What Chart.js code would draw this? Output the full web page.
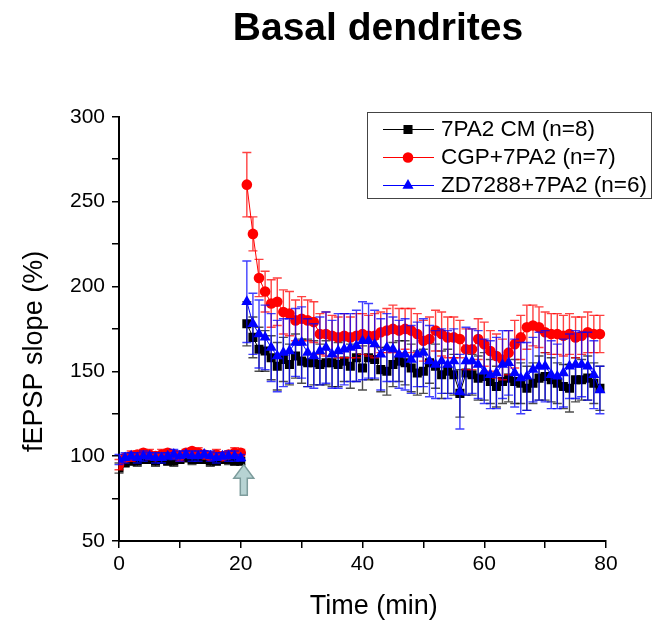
<!DOCTYPE html>
<html><head><meta charset="utf-8">
<script src="https://cdn.jsdelivr.net/npm/chart.js@4"></script>
<style>html,body{margin:0;padding:0;background:#fff;}</style>
</head><body>
<canvas id="c" width="656" height="623"></canvas>
<script>
// ---- data ----
const baselineTimes = [0,1,2,3,4,5,6,7,8,9,10,11,12,13,14,15,16,17,18,19,20];
const postTimes = [21,22,23,24,25,26,27,28,29,30,31,32,33,34,35,36,37,38,39,40,41,42,43,44,45,46,47,48,49,50,51,52,53,54,55,56,57,58,59,60,61,62,63,64,65,66,67,68,69,70,71,72,73,74,75,76,77,78,79];
const seriesLabels = ['7PA2 CM (n=8)', 'CGP+7PA2 (n=7)', 'ZD7288+7PA2 (n=6)'];

const cmBase = [93,96,97,97,98,98,97,98,97,97,98,99,98,98,98,97,97,98,98,97,97];
const cmPost = [178,170,163,162,158,153,157,154,159,156,
                155,155,154,155,155,154,156,153,158,152,
                158,157,151,150,154,156,155,152,149,150,
                155,153,148,150,148,137,149,148,146,147,
                144,141,144,146,144,143,140,143,146,147,
                145,143,141,140,145,145,146,143,140];
const cmBaseErr = [3,2,2,3,2,2,3,2,2,3,2,2,3,2,2,3,2,2,3,2,2];
const cmPostErr = [13,12,13,12,13,14,13,12,13,13,
                   14,13,12,13,14,13,12,13,14,13,
                   13,12,13,14,13,12,13,14,13,13,
                   12,13,14,13,12,14,13,12,13,14,
                   13,12,13,14,13,12,13,12,13,14,
                   13,12,13,14,13,12,13,12,13];

const cgpBase = [95,99,100,101,102,101,100,101,102,101,100,102,103,102,101,100,101,100,101,102,102];
const cgpPost = [260,231,205,197,190,191,185,184,180,181,
                 180,179,172,172,171,170,171,170,171,172,
                 171,171,173,174,175,174,175,174,172,168,
                 169,174,172,170,170,169,163,163,169,166,
                 162,159,157,161,166,170,176,177,176,173,
                 172,172,171,172,170,171,173,172,172];
const cgpBaseErr = [3,2,3,2,2,3,2,3,2,2,3,2,2,3,2,2,3,2,2,3,2];
const cgpPostErr = [19,10,11,12,14,14,13,13,12,13,
                    12,12,12,13,12,12,13,12,13,12,
                    12,13,12,13,14,13,12,13,12,12,
                    13,12,13,12,12,11,12,12,12,13,
                    12,13,12,13,14,13,13,12,12,12,
                    12,12,12,12,12,11,12,11,11];

const zdBase = [98,99,100,99,100,100,99,99,100,101,100,101,100,100,101,100,99,100,100,100,99];
const zdPost = [191,178,172,170,164,159,161,162,167,167,
                161,159,162,164,160,162,163,164,165,168,
                168,166,160,164,163,160,160,157,160,161,
                156,154,156,154,156,138,156,156,154,150,
                148,149,154,155,149,146,147,151,153,153,
                148,147,149,153,154,154,153,148,139];
const zdBaseErr = [3,3,2,3,3,2,3,3,2,3,3,2,3,3,2,3,3,2,3,3,2];
const zdPostErr = [24,18,20,19,20,21,20,19,20,21,
                   20,19,20,21,20,22,21,20,21,23,
                   22,20,21,20,19,20,21,20,19,20,
                   21,20,19,20,19,22,20,19,20,19,
                   20,21,20,19,20,21,20,19,20,21,
                   20,19,20,19,20,19,20,20,14];

const xTicks = [0,20,40,60,80];
const yTicks = [50,100,150,200,250,300];
const stimTime = 20.5; // arrow marking the stimulation

// ---- build datasets ----
function buildPoints(base, post) {
  const pts = baselineTimes.map((t,i)=>({x:t, y:base[i]}));
  pts.push({x:(baselineTimes[baselineTimes.length-1]+postTimes[0])/2, y:null});
  postTimes.forEach((t,i)=>pts.push({x:t, y:post[i]}));
  return pts;
}
function buildErr(be, pe){ return be.concat([null], pe); }

const FONT = "'Liberation Sans', Arial, Helvetica, sans-serif";
Chart.defaults.font.family = FONT;
Chart.defaults.color = '#000';

const datasets = [
  {label: seriesLabels[0], data: buildPoints(cmBase, cmPost), errors: buildErr(cmBaseErr, cmPostErr),
   borderColor:'#000', backgroundColor:'#000', pointBackgroundColor:'#000', pointBorderColor:'#000',
   pointStyle:'rect', pointRadius:6.4, pointBorderWidth:0, borderWidth:1, errColor:'rgba(0,0,0,0.7)', order:3},
  {label: seriesLabels[1], data: buildPoints(cgpBase, cgpPost), errors: buildErr(cgpBaseErr, cgpPostErr),
   borderColor:'#ff0000', backgroundColor:'#ff0000', pointBackgroundColor:'#ff0000', pointBorderColor:'#ff0000',
   pointStyle:'circle', pointRadius:5.3, pointBorderWidth:0, borderWidth:1, errColor:'rgba(255,0,0,0.75)', order:2},
  {label: seriesLabels[2], data: buildPoints(zdBase, zdPost), errors: buildErr(zdBaseErr, zdPostErr),
   borderColor:'#0000ff', backgroundColor:'#0000ff', pointBackgroundColor:'#0000ff', pointBorderColor:'#0000ff',
   pointStyle:'triangle', pointRadius:6.4, pointBorderWidth:0, borderWidth:1, errColor:'rgba(0,0,255,0.75)', order:1}
];

const errorBars = {
  id:'errorBars',
  beforeDatasetDraw(chart, args){
    const ds = chart.data.datasets[args.index];
    if(!ds.errors) return;
    const ctx = chart.ctx, ys = chart.scales.y;
    ctx.save();
    ctx.strokeStyle = ds.errColor; ctx.lineWidth = 1.4;
    args.meta.data.forEach((pt,i)=>{
      const d = ds.data[i]; const e = ds.errors[i];
      if(d.y == null || e == null || !isFinite(pt.x)) return;
      const x = pt.x, yt = ys.getPixelForValue(d.y+e), yb = ys.getPixelForValue(d.y-e);
      ctx.beginPath();
      ctx.moveTo(x,yt); ctx.lineTo(x,yb);
      ctx.moveTo(x-4.5,yt); ctx.lineTo(x+4.5,yt);
      ctx.moveTo(x-4.5,yb); ctx.lineTo(x+4.5,yb);
      ctx.stroke();
    });
    ctx.restore();
  }
};

const stimArrow = {
  id:'stimArrow',
  afterDatasetsDraw(chart){
    const ctx = chart.ctx, xs = chart.scales.x, ys = chart.scales.y;
    const x = xs.getPixelForValue(stimTime);
    const tip = ys.getPixelForValue(95), headBase = ys.getPixelForValue(87), bottom = ys.getPixelForValue(77);
    ctx.save();
    ctx.beginPath();
    ctx.moveTo(x, tip);
    ctx.lineTo(x+10, headBase);
    ctx.lineTo(x+3.5, headBase);
    ctx.lineTo(x+3.5, bottom);
    ctx.lineTo(x-3.5, bottom);
    ctx.lineTo(x-3.5, headBase);
    ctx.lineTo(x-10, headBase);
    ctx.closePath();
    ctx.fillStyle = '#b7d3d3'; ctx.fill();
    ctx.strokeStyle = '#7d9c9c'; ctx.lineWidth = 1.5; ctx.stroke();
    ctx.restore();
  }
};

const boxLegend = {
  id:'boxLegend',
  afterDraw(chart){
    const ctx = chart.ctx;
    const bx = 367, by = 112, bw = 284, bh = 86;
    ctx.save();
    ctx.fillStyle = '#fff'; ctx.fillRect(bx,by,bw,bh);
    ctx.strokeStyle = '#444'; ctx.lineWidth = 1; ctx.strokeRect(bx+0.5,by+0.5,bw,bh);
    ctx.font = '22.5px ' + FONT; ctx.textBaseline = 'middle'; ctx.fillStyle = '#000';
    chart.data.datasets.forEach((ds,i)=>{
      const y = 129 + i*28;
      ctx.strokeStyle = ds.borderColor; ctx.lineWidth = 1;
      ctx.beginPath(); ctx.moveTo(383,y+0.5); ctx.lineTo(434,y+0.5); ctx.stroke();
      ctx.fillStyle = ds.pointBackgroundColor;
      Chart.helpers.drawPoint(ctx, {pointStyle: ds.pointStyle, radius: ds.pointRadius, borderWidth:0, rotation:0}, 408, y+0.5);
      ctx.fillStyle = '#000';
      ctx.fillText(ds.label, 441, y+1);
    });
    ctx.restore();
  }
};

const shiftTitle = {
  id:'shiftTitle',
  afterLayout(chart){
    const t = chart.titleBlock;
    if(t){ t.left = 100; t.right = 656; }
  }
};

new Chart(document.getElementById('c'), {
  type:'line',
  data:{datasets},
  plugins:[errorBars, stimArrow, boxLegend, shiftTitle],
  options:{
    responsive:false, animation:false, devicePixelRatio:1,
    spanGaps:false,
    layout:{padding:{left:0,right:50,top:0,bottom:0}},
    plugins:{
      legend:{display:false},
      tooltip:{enabled:false},
      title:{display:true, text:'Basal dendrites', color:'#000',
        font:{size:39, weight:'bold', family:FONT}, padding:{top:6,bottom:64}, fullSize:true}
    },
    scales:{
      x:{type:'linear', min:0, max:80,
        afterFit(s){ s.height = 82; },
        border:{display:true, color:'#000', width:2},
        grid:{display:true, drawOnChartArea:false, drawTicks:true, tickLength:7, color:'#000', lineWidth:1.5},
        ticks:{stepSize:10, padding:4, color:'#000', font:{size:21, family:FONT},
          callback:(v)=> xTicks.includes(v) ? String(v) : ''},
        title:{display:true, text:'   Time (min)', color:'#000', font:{size:27, family:FONT}, padding:{top:0,bottom:0}}
      },
      y:{type:'linear', min:50, max:300,
        afterFit(s){ s.width = 119; },
        border:{display:true, color:'#000', width:2},
        grid:{display:true, drawOnChartArea:false, drawTicks:true, tickLength:7, color:'#000', lineWidth:1.5},
        ticks:{stepSize:25, padding:7, color:'#000', font:{size:21, family:FONT},
          callback:(v)=> yTicks.includes(v) ? String(v) : ''},
        title:{display:true, text:'fEPSP slope (%)      ', color:'#000', font:{size:27, family:FONT}, padding:{top:18,bottom:0}}
      }
    }
  }
});
</script>
</body></html>
